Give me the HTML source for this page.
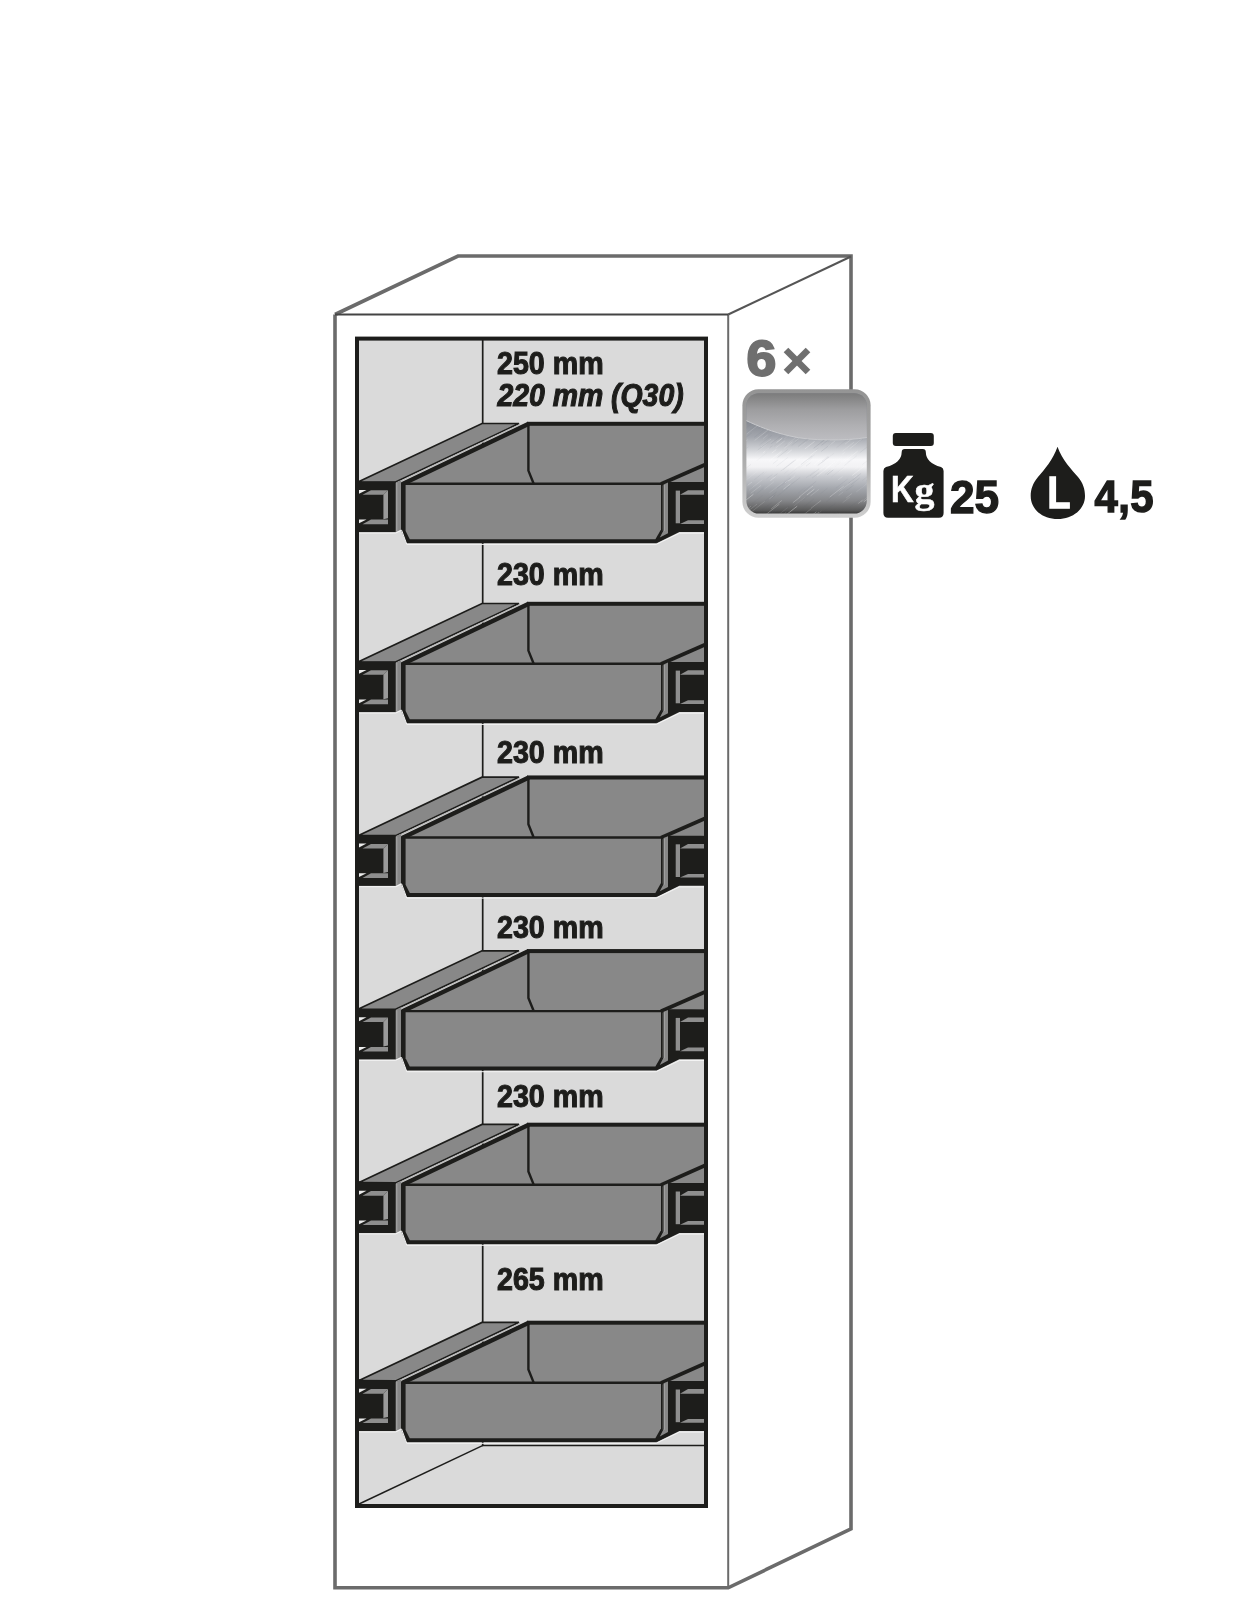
<!DOCTYPE html>
<html><head><meta charset="utf-8">
<style>
html,body{margin:0;padding:0;background:#fff;width:1241px;height:1624px;overflow:hidden}
svg{position:absolute;left:0;top:0;display:block;will-change:transform}
text{font-family:"Liberation Sans",sans-serif;font-weight:bold}
body{-webkit-font-smoothing:antialiased}
</style></head><body>
<svg width="1241" height="1624" viewBox="0 0 1241 1624">
<defs>
<g id="drw">
  <!-- tray interior -->
  <polygon points="403,484 528,422 706,422 706,482 662,484" fill="#888888"/>
  <!-- left rail top face -->
  <polygon points="358.5,481.8 482,423.5 519,423.5 395.6,482" fill="#888888" stroke="#1d1d1b" stroke-width="1.7" stroke-linejoin="miter"/>
  <line x1="398" y1="482.4" x2="520" y2="424.4" stroke="#b8b8b8" stroke-width="1.1"/>
  <!-- left rim thick -->
  <line x1="402" y1="484.2" x2="528.8" y2="423.8" stroke="#1d1d1b" stroke-width="4.4"/>
  <!-- back rim -->
  <rect x="527" y="421.8" width="179" height="4" fill="#1d1d1b"/>
  <!-- inner back corner -->
  <polyline points="528.4,425 528.4,470.6 533.6,483.5" fill="none" stroke="#1d1d1b" stroke-width="2.4"/>
  <!-- right rim -->
    <line x1="661" y1="484" x2="706" y2="464.2" stroke="#1d1d1b" stroke-width="3.8"/>
  <!-- left block -->
  <rect x="357" y="481.7" width="38.8" height="50.5" fill="#1d1d1b"/>
  <polygon points="358.5,489.9 366.5,489.9 358.5,494.1" fill="#ececec"/>
  <polygon points="371,490.2 388,490.2 383.4,494.8 362.5,494.8" fill="#8e8e8e"/>
  <polygon points="383.4,494.8 388,490.2 388,518.2 383.4,519.2" fill="#9a9a9a"/>
  <polygon points="358.5,519.6 366.5,519.6 358.5,523.6" fill="#ececec"/>
  <polygon points="371,519.6 388,519.6 388,524.2 362.5,524.2" fill="#8e8e8e"/>
  <!-- left side strip -->
  <polygon points="396,482.4 401.2,480 401.2,529.4 396,532" fill="#888888"/>
  <line x1="396.8" y1="483" x2="396.8" y2="531" stroke="#a8a8a8" stroke-width="1"/>
  <!-- tray front -->
  <polygon points="401,482.6 662.8,482.6 662.8,529.5 656.6,543.3 406.4,543.3 401,530" fill="#1d1d1b"/>
  <polygon points="405.6,485 661,485 661,529.4 655.4,539.3 409.8,539.3 405.6,531" fill="#888888"/>
  <!-- right block -->
  <polygon points="662.8,482 706,482 706,532 679.4,532 656.6,543.3 656.6,539 662.8,529.5" fill="#1d1d1b"/>
  <polygon points="663.6,484.4 668,482.6 668,533.2 659.8,537.6 663.6,530.2" fill="#888888"/>
  <line x1="664.3" y1="485" x2="664.3" y2="531" stroke="#aaaaaa" stroke-width="0.9"/>
  <polygon points="675.7,490.6 680,490.6 680,523.3 675.7,523.3" fill="#8e8e8e"/>
  <polyline points="359,533 395.8,533 401.6,530.2 406.8,544.4 656.2,544.4 679.4,533.2 704,533.2" fill="none" stroke="#f4f4f4" stroke-width="1"/>
  <polygon points="688,490.2 706,490.2 706,494.8 680,494.8" fill="#8e8e8e"/>
  <polygon points="688,520.2 706,520.2 706,523.9 680,523.9" fill="#8e8e8e"/>
</g>
</defs>

<!-- cabinet outline -->
<g fill="none" stroke="#6b6b6b" stroke-linejoin="miter">
  <polyline points="335,314.5 458,256 851,256 851,1528.8 728.2,1587.8 335,1587.8 335,314.5" stroke-width="3.6"/>
  <line x1="728.2" y1="314.5" x2="728.2" y2="1587" stroke-width="2"/>
  <line x1="728.2" y1="314.5" x2="851" y2="256.5" stroke-width="2" stroke="#555"/>
  <line x1="335" y1="314.5" x2="728.2" y2="314.5" stroke-width="2" stroke="#444"/>
</g>

<!-- inner cavity -->
<rect x="357" y="338.6" width="349" height="1167.4" fill="#dadada"/>
<line x1="482.7" y1="340" x2="482.7" y2="1446" stroke="#1d1d1b" stroke-width="1.7"/>
<line x1="482" y1="1445.6" x2="704" y2="1445.6" stroke="#1d1d1b" stroke-width="1.5"/>
<line x1="358" y1="1504.5" x2="483" y2="1445.4" stroke="#1d1d1b" stroke-width="1.4"/>

<use href="#drw"/>
<use href="#drw" transform="translate(0,180)"/>
<use href="#drw" transform="translate(0,353.7)"/>
<use href="#drw" transform="translate(0,527.3)"/>
<use href="#drw" transform="translate(0,700.9)"/>
<use href="#drw" transform="translate(0,898.9)"/>
<rect x="357" y="338.6" width="349" height="1167.4" fill="none" stroke="#1d1d1b" stroke-width="4"/>

<!-- labels -->
<g fill="#1d1d1b" stroke="#1d1d1b" stroke-width="1.1" font-size="31.2">
  <text transform="translate(497.0,373.9) scale(0.918,1)">250 mm</text>
  <text transform="translate(497.5,406.3) scale(0.91,1)" font-style="italic">220 mm (Q30)</text>
  <text transform="translate(497.0,584.5) scale(0.918,1)">230 mm</text>
  <text transform="translate(497.0,762.5) scale(0.918,1)">230 mm</text>
  <text transform="translate(497.0,937.7) scale(0.918,1)">230 mm</text>
  <text transform="translate(497.0,1106.9) scale(0.918,1)">230 mm</text>
  <text transform="translate(497.0,1290.1) scale(0.918,1)">265 mm</text>
</g>

<!-- 6x -->
<text transform="translate(746.5,376.3) scale(1.07,1)" font-size="50" fill="#6f6f6f" stroke="#6f6f6f" stroke-width="2">6</text>
<g stroke="#6f6f6f" stroke-width="6.5"><line x1="786" y1="350" x2="808" y2="372"/><line x1="808" y1="350" x2="786" y2="372"/></g>

<!-- metal square -->
<defs>
  <linearGradient id="mBorder" x1="0" y1="0" x2="0" y2="1">
    <stop offset="0" stop-color="#949494"/>
    <stop offset="0.5" stop-color="#a8a8a8"/>
    <stop offset="1" stop-color="#cfcfcf"/>
  </linearGradient>
  <linearGradient id="mLow" x1="0" y1="420" x2="0" y2="514" gradientUnits="userSpaceOnUse">
    <stop offset="0" stop-color="#83878f"/>
    <stop offset="0.18" stop-color="#a4a7ae"/>
    <stop offset="0.32" stop-color="#d2d4d8"/>
    <stop offset="0.42" stop-color="#f7f7f9"/>
    <stop offset="0.5" stop-color="#f2f2f4"/>
    <stop offset="0.6" stop-color="#c9cbd0"/>
    <stop offset="0.72" stop-color="#a6a9af"/>
    <stop offset="0.86" stop-color="#858689"/>
    <stop offset="0.96" stop-color="#5a5a5a"/>
    <stop offset="1" stop-color="#353535"/>
  </linearGradient>
  <linearGradient id="mUp" x1="0" y1="393" x2="0" y2="440" gradientUnits="userSpaceOnUse">
    <stop offset="0" stop-color="#7b7b7b"/>
    <stop offset="0.35" stop-color="#9d9d9f"/>
    <stop offset="0.7" stop-color="#b0b0b3"/>
    <stop offset="1" stop-color="#bdbdc1"/>
  </linearGradient>
  <pattern id="brush" width="6" height="6" patternUnits="userSpaceOnUse" patternTransform="rotate(-35)">
    <rect x="0" y="0" width="6" height="1" fill="#ffffff" opacity="0.18"/>
    <rect x="0" y="3" width="6" height="0.8" fill="#6a7080" opacity="0.12"/>
  </pattern>
  <clipPath id="mLowClip"><path d="M746,514 L867,514 L867,437.5 C845,441 810,441 790,436 C772,432 758,426 746,420.5 Z"/></clipPath>
  <clipPath id="mClip"><rect x="746.4" y="393.2" width="120.4" height="120.4" rx="12.5"/></clipPath>
</defs>
<rect x="742.4" y="389.3" width="128.2" height="128.4" rx="16" fill="url(#mBorder)"/>
<g clip-path="url(#mClip)">
  <rect x="746" y="393" width="121" height="121" fill="url(#mLow)"/>
  <path d="M746,393 L867,393 L867,437.5 C845,441 810,441 790,436 C772,432 758,426 746,420.5 Z" fill="url(#mUp)"/>
  <path d="M867,437.5 C845,441 810,441 790,436 C772,432 758,426 746,420.5" fill="none" stroke="#c8c9cc" stroke-width="1"/>
  <g clip-path="url(#mLowClip)"><line x1="793.9" y1="468.6" x2="807.3" y2="458.2" stroke="#ffffff" stroke-opacity="0.28" stroke-width="0.69"/><line x1="756.7" y1="460.6" x2="766.8" y2="452.7" stroke="#5c6474" stroke-opacity="0.07" stroke-width="0.55"/><line x1="742.7" y1="502.6" x2="753.5" y2="494.1" stroke="#ffffff" stroke-opacity="0.40" stroke-width="0.88"/><line x1="827.4" y1="473.1" x2="832.3" y2="469.3" stroke="#ffffff" stroke-opacity="0.28" stroke-width="0.43"/><line x1="760.8" y1="420.2" x2="764.3" y2="417.5" stroke="#ffffff" stroke-opacity="0.26" stroke-width="0.82"/><line x1="805.9" y1="478.0" x2="814.6" y2="471.3" stroke="#5c6474" stroke-opacity="0.11" stroke-width="0.54"/><line x1="873.4" y1="529.2" x2="885.9" y2="519.5" stroke="#5c6474" stroke-opacity="0.09" stroke-width="0.51"/><line x1="771.1" y1="399.4" x2="782.7" y2="390.3" stroke="#ffffff" stroke-opacity="0.36" stroke-width="0.59"/><line x1="872.3" y1="504.9" x2="875.5" y2="502.4" stroke="#ffffff" stroke-opacity="0.38" stroke-width="0.63"/><line x1="875.2" y1="442.2" x2="879.1" y2="439.1" stroke="#5c6474" stroke-opacity="0.14" stroke-width="0.53"/><line x1="740.7" y1="436.9" x2="754.5" y2="426.2" stroke="#5c6474" stroke-opacity="0.07" stroke-width="0.52"/><line x1="743.7" y1="398.1" x2="755.6" y2="388.7" stroke="#ffffff" stroke-opacity="0.29" stroke-width="0.62"/><line x1="760.4" y1="489.3" x2="764.9" y2="485.7" stroke="#5c6474" stroke-opacity="0.07" stroke-width="0.61"/><line x1="758.9" y1="428.2" x2="772.8" y2="417.4" stroke="#5c6474" stroke-opacity="0.09" stroke-width="0.84"/><line x1="759.3" y1="445.1" x2="771.8" y2="435.3" stroke="#5c6474" stroke-opacity="0.07" stroke-width="0.89"/><line x1="760.1" y1="425.7" x2="771.8" y2="416.6" stroke="#ffffff" stroke-opacity="0.22" stroke-width="0.44"/><line x1="745.2" y1="468.9" x2="751.0" y2="464.3" stroke="#5c6474" stroke-opacity="0.10" stroke-width="0.63"/><line x1="869.3" y1="456.4" x2="878.8" y2="449.0" stroke="#5c6474" stroke-opacity="0.08" stroke-width="0.48"/><line x1="863.8" y1="501.8" x2="869.7" y2="497.2" stroke="#ffffff" stroke-opacity="0.33" stroke-width="0.87"/><line x1="757.1" y1="523.1" x2="769.9" y2="513.0" stroke="#5c6474" stroke-opacity="0.10" stroke-width="0.45"/><line x1="737.7" y1="522.0" x2="743.5" y2="517.5" stroke="#5c6474" stroke-opacity="0.09" stroke-width="0.81"/><line x1="818.9" y1="428.1" x2="824.0" y2="424.1" stroke="#5c6474" stroke-opacity="0.07" stroke-width="0.51"/><line x1="811.1" y1="508.2" x2="821.1" y2="500.5" stroke="#ffffff" stroke-opacity="0.38" stroke-width="0.50"/><line x1="733.4" y1="425.8" x2="741.4" y2="419.5" stroke="#ffffff" stroke-opacity="0.19" stroke-width="0.58"/><line x1="814.4" y1="406.2" x2="821.5" y2="400.6" stroke="#5c6474" stroke-opacity="0.16" stroke-width="0.73"/><line x1="832.9" y1="468.7" x2="837.6" y2="465.0" stroke="#ffffff" stroke-opacity="0.15" stroke-width="0.86"/><line x1="834.9" y1="521.1" x2="838.3" y2="518.5" stroke="#5c6474" stroke-opacity="0.11" stroke-width="0.77"/><line x1="779.2" y1="526.5" x2="783.2" y2="523.4" stroke="#5c6474" stroke-opacity="0.13" stroke-width="0.85"/><line x1="835.9" y1="488.2" x2="847.8" y2="478.9" stroke="#5c6474" stroke-opacity="0.10" stroke-width="0.74"/><line x1="861.7" y1="510.0" x2="869.5" y2="503.9" stroke="#5c6474" stroke-opacity="0.15" stroke-width="0.69"/><line x1="820.8" y1="442.3" x2="830.4" y2="434.8" stroke="#5c6474" stroke-opacity="0.07" stroke-width="0.72"/><line x1="873.4" y1="512.5" x2="884.6" y2="503.8" stroke="#ffffff" stroke-opacity="0.33" stroke-width="0.69"/><line x1="796.8" y1="504.0" x2="800.9" y2="500.8" stroke="#5c6474" stroke-opacity="0.06" stroke-width="0.70"/><line x1="799.3" y1="421.5" x2="810.2" y2="413.0" stroke="#ffffff" stroke-opacity="0.30" stroke-width="0.86"/><line x1="768.9" y1="389.1" x2="775.3" y2="384.1" stroke="#5c6474" stroke-opacity="0.08" stroke-width="0.48"/><line x1="862.3" y1="480.5" x2="870.3" y2="474.3" stroke="#5c6474" stroke-opacity="0.09" stroke-width="0.73"/><line x1="757.8" y1="450.0" x2="769.8" y2="440.6" stroke="#5c6474" stroke-opacity="0.15" stroke-width="0.59"/><line x1="817.2" y1="431.1" x2="821.9" y2="427.5" stroke="#ffffff" stroke-opacity="0.36" stroke-width="0.82"/><line x1="835.0" y1="520.4" x2="841.2" y2="515.6" stroke="#ffffff" stroke-opacity="0.26" stroke-width="0.54"/><line x1="761.0" y1="446.9" x2="771.1" y2="439.0" stroke="#ffffff" stroke-opacity="0.23" stroke-width="0.82"/><line x1="875.4" y1="449.9" x2="879.4" y2="446.8" stroke="#ffffff" stroke-opacity="0.37" stroke-width="0.42"/><line x1="834.5" y1="467.4" x2="841.0" y2="462.3" stroke="#5c6474" stroke-opacity="0.06" stroke-width="0.47"/><line x1="794.8" y1="393.3" x2="807.1" y2="383.7" stroke="#ffffff" stroke-opacity="0.19" stroke-width="0.42"/><line x1="821.2" y1="451.5" x2="831.3" y2="443.6" stroke="#5c6474" stroke-opacity="0.14" stroke-width="0.88"/><line x1="830.1" y1="416.2" x2="838.4" y2="409.6" stroke="#ffffff" stroke-opacity="0.15" stroke-width="0.64"/><line x1="835.5" y1="412.5" x2="841.6" y2="407.7" stroke="#ffffff" stroke-opacity="0.32" stroke-width="0.66"/><line x1="820.3" y1="493.8" x2="827.8" y2="487.9" stroke="#5c6474" stroke-opacity="0.15" stroke-width="0.44"/><line x1="867.9" y1="487.9" x2="872.5" y2="484.3" stroke="#ffffff" stroke-opacity="0.31" stroke-width="0.85"/><line x1="783.2" y1="469.7" x2="796.1" y2="459.6" stroke="#5c6474" stroke-opacity="0.15" stroke-width="0.63"/><line x1="823.9" y1="418.0" x2="835.0" y2="409.3" stroke="#5c6474" stroke-opacity="0.12" stroke-width="0.76"/><line x1="758.9" y1="516.5" x2="772.9" y2="505.5" stroke="#5c6474" stroke-opacity="0.11" stroke-width="0.80"/><line x1="775.2" y1="517.3" x2="787.8" y2="507.5" stroke="#ffffff" stroke-opacity="0.17" stroke-width="0.62"/><line x1="810.5" y1="495.9" x2="819.1" y2="489.2" stroke="#ffffff" stroke-opacity="0.35" stroke-width="0.43"/><line x1="847.6" y1="411.9" x2="854.4" y2="406.5" stroke="#5c6474" stroke-opacity="0.07" stroke-width="0.47"/><line x1="803.7" y1="491.2" x2="816.1" y2="481.4" stroke="#5c6474" stroke-opacity="0.15" stroke-width="0.65"/><line x1="869.8" y1="399.2" x2="875.4" y2="394.9" stroke="#5c6474" stroke-opacity="0.09" stroke-width="0.76"/><line x1="821.4" y1="463.1" x2="833.9" y2="453.3" stroke="#5c6474" stroke-opacity="0.09" stroke-width="0.59"/><line x1="854.8" y1="513.2" x2="860.3" y2="508.9" stroke="#5c6474" stroke-opacity="0.16" stroke-width="0.66"/><line x1="813.6" y1="416.7" x2="822.6" y2="409.6" stroke="#5c6474" stroke-opacity="0.12" stroke-width="0.41"/><line x1="871.8" y1="460.2" x2="879.3" y2="454.3" stroke="#5c6474" stroke-opacity="0.12" stroke-width="0.65"/><line x1="830.6" y1="397.8" x2="839.7" y2="390.7" stroke="#ffffff" stroke-opacity="0.39" stroke-width="0.86"/><line x1="771.8" y1="453.0" x2="776.3" y2="449.5" stroke="#ffffff" stroke-opacity="0.35" stroke-width="0.85"/><line x1="801.5" y1="431.5" x2="806.7" y2="427.4" stroke="#5c6474" stroke-opacity="0.15" stroke-width="0.46"/><line x1="845.4" y1="390.3" x2="850.6" y2="386.1" stroke="#ffffff" stroke-opacity="0.32" stroke-width="0.56"/><line x1="784.4" y1="473.5" x2="788.7" y2="470.1" stroke="#5c6474" stroke-opacity="0.07" stroke-width="0.66"/><line x1="766.8" y1="416.2" x2="775.8" y2="409.2" stroke="#ffffff" stroke-opacity="0.24" stroke-width="0.61"/><line x1="809.1" y1="409.5" x2="814.5" y2="405.3" stroke="#5c6474" stroke-opacity="0.12" stroke-width="0.66"/><line x1="852.1" y1="475.6" x2="864.7" y2="465.7" stroke="#ffffff" stroke-opacity="0.34" stroke-width="0.81"/><line x1="862.6" y1="431.8" x2="869.2" y2="426.6" stroke="#5c6474" stroke-opacity="0.08" stroke-width="0.90"/><line x1="860.8" y1="406.0" x2="866.6" y2="401.5" stroke="#5c6474" stroke-opacity="0.09" stroke-width="0.45"/><line x1="849.7" y1="448.7" x2="861.6" y2="439.4" stroke="#ffffff" stroke-opacity="0.25" stroke-width="0.74"/><line x1="732.2" y1="417.3" x2="742.9" y2="409.0" stroke="#5c6474" stroke-opacity="0.16" stroke-width="0.46"/><line x1="804.0" y1="494.5" x2="812.7" y2="487.7" stroke="#5c6474" stroke-opacity="0.08" stroke-width="0.44"/><line x1="745.8" y1="393.8" x2="755.0" y2="386.6" stroke="#5c6474" stroke-opacity="0.12" stroke-width="0.47"/><line x1="755.5" y1="418.4" x2="768.0" y2="408.7" stroke="#5c6474" stroke-opacity="0.15" stroke-width="0.45"/><line x1="739.9" y1="521.4" x2="748.1" y2="515.0" stroke="#5c6474" stroke-opacity="0.09" stroke-width="0.63"/><line x1="804.8" y1="449.0" x2="814.6" y2="441.4" stroke="#ffffff" stroke-opacity="0.33" stroke-width="0.82"/><line x1="755.6" y1="453.0" x2="766.9" y2="444.1" stroke="#ffffff" stroke-opacity="0.20" stroke-width="0.48"/><line x1="802.8" y1="392.2" x2="815.8" y2="382.1" stroke="#5c6474" stroke-opacity="0.13" stroke-width="0.83"/><line x1="821.4" y1="445.4" x2="831.1" y2="437.8" stroke="#5c6474" stroke-opacity="0.16" stroke-width="0.80"/><line x1="766.8" y1="517.0" x2="778.1" y2="508.1" stroke="#5c6474" stroke-opacity="0.14" stroke-width="0.60"/><line x1="859.6" y1="512.4" x2="870.4" y2="504.0" stroke="#5c6474" stroke-opacity="0.14" stroke-width="0.60"/><line x1="836.3" y1="397.6" x2="843.2" y2="392.2" stroke="#ffffff" stroke-opacity="0.15" stroke-width="0.58"/><line x1="824.8" y1="474.6" x2="830.5" y2="470.1" stroke="#5c6474" stroke-opacity="0.13" stroke-width="0.57"/><line x1="826.1" y1="468.3" x2="835.2" y2="461.2" stroke="#ffffff" stroke-opacity="0.40" stroke-width="0.72"/><line x1="829.7" y1="497.1" x2="843.7" y2="486.2" stroke="#ffffff" stroke-opacity="0.30" stroke-width="0.77"/><line x1="770.4" y1="442.7" x2="774.1" y2="439.8" stroke="#ffffff" stroke-opacity="0.24" stroke-width="0.45"/><line x1="766.8" y1="515.4" x2="776.0" y2="508.2" stroke="#5c6474" stroke-opacity="0.16" stroke-width="0.68"/><line x1="873.2" y1="479.0" x2="885.3" y2="469.6" stroke="#ffffff" stroke-opacity="0.30" stroke-width="0.78"/><line x1="739.1" y1="517.1" x2="744.0" y2="513.3" stroke="#ffffff" stroke-opacity="0.19" stroke-width="0.65"/><line x1="816.8" y1="398.5" x2="830.4" y2="387.9" stroke="#ffffff" stroke-opacity="0.28" stroke-width="0.70"/><line x1="782.8" y1="429.1" x2="793.2" y2="421.0" stroke="#5c6474" stroke-opacity="0.09" stroke-width="0.76"/><line x1="775.0" y1="389.2" x2="780.9" y2="384.7" stroke="#ffffff" stroke-opacity="0.19" stroke-width="0.78"/><line x1="785.8" y1="515.1" x2="797.2" y2="506.2" stroke="#ffffff" stroke-opacity="0.40" stroke-width="0.87"/><line x1="741.7" y1="514.9" x2="749.6" y2="508.7" stroke="#ffffff" stroke-opacity="0.39" stroke-width="0.52"/><line x1="805.3" y1="520.6" x2="816.4" y2="511.9" stroke="#ffffff" stroke-opacity="0.39" stroke-width="0.81"/><line x1="817.5" y1="405.0" x2="827.5" y2="397.2" stroke="#ffffff" stroke-opacity="0.20" stroke-width="0.43"/><line x1="807.6" y1="405.5" x2="815.6" y2="399.3" stroke="#5c6474" stroke-opacity="0.11" stroke-width="0.53"/><line x1="813.6" y1="448.3" x2="825.3" y2="439.2" stroke="#5c6474" stroke-opacity="0.16" stroke-width="0.88"/><line x1="839.3" y1="420.1" x2="843.7" y2="416.7" stroke="#5c6474" stroke-opacity="0.14" stroke-width="0.71"/><line x1="781.7" y1="427.2" x2="792.4" y2="418.8" stroke="#5c6474" stroke-opacity="0.12" stroke-width="0.72"/><line x1="841.3" y1="413.9" x2="847.2" y2="409.3" stroke="#5c6474" stroke-opacity="0.15" stroke-width="0.84"/><line x1="737.7" y1="395.9" x2="743.8" y2="391.1" stroke="#ffffff" stroke-opacity="0.31" stroke-width="0.45"/><line x1="811.5" y1="396.8" x2="815.6" y2="393.5" stroke="#5c6474" stroke-opacity="0.12" stroke-width="0.72"/><line x1="786.4" y1="454.1" x2="791.8" y2="449.9" stroke="#ffffff" stroke-opacity="0.34" stroke-width="0.82"/><line x1="739.7" y1="406.5" x2="751.8" y2="397.1" stroke="#5c6474" stroke-opacity="0.14" stroke-width="0.51"/><line x1="790.5" y1="425.9" x2="802.6" y2="416.4" stroke="#ffffff" stroke-opacity="0.31" stroke-width="0.89"/><line x1="776.5" y1="466.3" x2="787.9" y2="457.4" stroke="#5c6474" stroke-opacity="0.10" stroke-width="0.58"/><line x1="747.1" y1="509.1" x2="751.1" y2="506.0" stroke="#ffffff" stroke-opacity="0.29" stroke-width="0.64"/><line x1="828.5" y1="431.4" x2="840.2" y2="422.3" stroke="#ffffff" stroke-opacity="0.20" stroke-width="0.73"/><line x1="741.3" y1="431.9" x2="752.4" y2="423.2" stroke="#5c6474" stroke-opacity="0.09" stroke-width="0.47"/><line x1="783.3" y1="489.4" x2="790.5" y2="483.8" stroke="#ffffff" stroke-opacity="0.33" stroke-width="0.68"/><line x1="861.6" y1="521.8" x2="874.8" y2="511.4" stroke="#ffffff" stroke-opacity="0.35" stroke-width="0.55"/><line x1="774.3" y1="446.2" x2="787.8" y2="435.7" stroke="#5c6474" stroke-opacity="0.08" stroke-width="0.58"/><line x1="784.2" y1="438.8" x2="791.8" y2="432.9" stroke="#ffffff" stroke-opacity="0.20" stroke-width="0.68"/><line x1="844.4" y1="465.5" x2="856.8" y2="455.8" stroke="#5c6474" stroke-opacity="0.08" stroke-width="0.78"/><line x1="861.0" y1="425.7" x2="864.4" y2="423.1" stroke="#5c6474" stroke-opacity="0.11" stroke-width="0.68"/><line x1="869.1" y1="480.9" x2="881.1" y2="471.5" stroke="#ffffff" stroke-opacity="0.29" stroke-width="0.79"/><line x1="741.5" y1="400.8" x2="752.8" y2="392.0" stroke="#5c6474" stroke-opacity="0.07" stroke-width="0.72"/><line x1="750.7" y1="493.4" x2="761.0" y2="485.4" stroke="#ffffff" stroke-opacity="0.21" stroke-width="0.78"/><line x1="806.9" y1="495.0" x2="814.4" y2="489.1" stroke="#ffffff" stroke-opacity="0.39" stroke-width="0.74"/><line x1="801.0" y1="464.6" x2="812.1" y2="455.9" stroke="#5c6474" stroke-opacity="0.15" stroke-width="0.61"/><line x1="848.5" y1="483.3" x2="861.1" y2="473.4" stroke="#5c6474" stroke-opacity="0.14" stroke-width="0.84"/><line x1="869.4" y1="478.1" x2="878.3" y2="471.1" stroke="#5c6474" stroke-opacity="0.14" stroke-width="0.61"/><line x1="790.3" y1="409.9" x2="801.6" y2="401.0" stroke="#5c6474" stroke-opacity="0.10" stroke-width="0.48"/><line x1="761.4" y1="447.0" x2="767.8" y2="442.0" stroke="#5c6474" stroke-opacity="0.07" stroke-width="0.55"/><line x1="745.8" y1="480.3" x2="757.5" y2="471.1" stroke="#ffffff" stroke-opacity="0.17" stroke-width="0.63"/><line x1="817.9" y1="513.7" x2="821.5" y2="510.9" stroke="#ffffff" stroke-opacity="0.20" stroke-width="0.51"/><line x1="764.3" y1="489.2" x2="774.0" y2="481.6" stroke="#ffffff" stroke-opacity="0.20" stroke-width="0.54"/><line x1="756.7" y1="493.6" x2="763.3" y2="488.5" stroke="#5c6474" stroke-opacity="0.14" stroke-width="0.64"/><line x1="766.1" y1="514.4" x2="779.4" y2="504.1" stroke="#ffffff" stroke-opacity="0.29" stroke-width="0.88"/><line x1="803.1" y1="417.4" x2="806.8" y2="414.5" stroke="#5c6474" stroke-opacity="0.14" stroke-width="0.59"/><line x1="808.4" y1="459.6" x2="814.6" y2="454.8" stroke="#5c6474" stroke-opacity="0.13" stroke-width="0.52"/><line x1="733.0" y1="454.0" x2="740.2" y2="448.3" stroke="#5c6474" stroke-opacity="0.13" stroke-width="0.70"/><line x1="754.5" y1="409.6" x2="761.2" y2="404.3" stroke="#ffffff" stroke-opacity="0.37" stroke-width="0.66"/><line x1="824.3" y1="526.4" x2="830.4" y2="521.7" stroke="#5c6474" stroke-opacity="0.08" stroke-width="0.79"/><line x1="729.0" y1="504.9" x2="741.4" y2="495.1" stroke="#5c6474" stroke-opacity="0.07" stroke-width="0.53"/><line x1="834.7" y1="401.9" x2="843.1" y2="395.3" stroke="#ffffff" stroke-opacity="0.39" stroke-width="0.69"/><line x1="853.4" y1="432.1" x2="865.2" y2="422.9" stroke="#ffffff" stroke-opacity="0.38" stroke-width="0.45"/><line x1="850.2" y1="417.8" x2="859.4" y2="410.6" stroke="#5c6474" stroke-opacity="0.08" stroke-width="0.82"/><line x1="778.2" y1="430.1" x2="782.1" y2="426.9" stroke="#ffffff" stroke-opacity="0.27" stroke-width="0.76"/><line x1="785.0" y1="482.9" x2="789.3" y2="479.5" stroke="#ffffff" stroke-opacity="0.27" stroke-width="0.88"/><line x1="853.7" y1="477.8" x2="857.0" y2="475.3" stroke="#ffffff" stroke-opacity="0.33" stroke-width="0.52"/><line x1="815.2" y1="450.4" x2="818.4" y2="447.9" stroke="#5c6474" stroke-opacity="0.14" stroke-width="0.50"/><line x1="820.7" y1="428.5" x2="828.0" y2="422.8" stroke="#5c6474" stroke-opacity="0.09" stroke-width="0.57"/><line x1="788.9" y1="480.7" x2="794.9" y2="476.0" stroke="#ffffff" stroke-opacity="0.33" stroke-width="0.56"/><line x1="866.5" y1="468.1" x2="877.6" y2="459.4" stroke="#ffffff" stroke-opacity="0.36" stroke-width="0.45"/><line x1="750.1" y1="402.4" x2="760.7" y2="394.1" stroke="#5c6474" stroke-opacity="0.08" stroke-width="0.60"/><line x1="854.3" y1="469.6" x2="858.4" y2="466.4" stroke="#ffffff" stroke-opacity="0.19" stroke-width="0.46"/><line x1="787.3" y1="400.4" x2="800.6" y2="390.0" stroke="#ffffff" stroke-opacity="0.28" stroke-width="0.72"/><line x1="842.5" y1="502.8" x2="849.9" y2="497.1" stroke="#ffffff" stroke-opacity="0.25" stroke-width="0.41"/><line x1="786.1" y1="488.4" x2="800.1" y2="477.5" stroke="#5c6474" stroke-opacity="0.13" stroke-width="0.70"/><line x1="734.2" y1="434.0" x2="741.2" y2="428.6" stroke="#5c6474" stroke-opacity="0.07" stroke-width="0.59"/><line x1="802.7" y1="500.2" x2="815.0" y2="490.6" stroke="#5c6474" stroke-opacity="0.08" stroke-width="0.78"/><line x1="862.4" y1="464.5" x2="869.5" y2="459.0" stroke="#5c6474" stroke-opacity="0.07" stroke-width="0.76"/><line x1="872.6" y1="461.6" x2="883.6" y2="452.9" stroke="#5c6474" stroke-opacity="0.08" stroke-width="0.87"/><line x1="823.9" y1="414.3" x2="828.0" y2="411.1" stroke="#ffffff" stroke-opacity="0.29" stroke-width="0.75"/><line x1="779.2" y1="517.9" x2="786.3" y2="512.3" stroke="#ffffff" stroke-opacity="0.18" stroke-width="0.89"/><line x1="750.1" y1="515.1" x2="759.2" y2="508.0" stroke="#5c6474" stroke-opacity="0.12" stroke-width="0.53"/><line x1="860.8" y1="528.7" x2="872.9" y2="519.1" stroke="#5c6474" stroke-opacity="0.07" stroke-width="0.81"/><line x1="773.9" y1="512.9" x2="779.7" y2="508.3" stroke="#5c6474" stroke-opacity="0.14" stroke-width="0.49"/><line x1="812.7" y1="397.0" x2="816.2" y2="394.3" stroke="#ffffff" stroke-opacity="0.40" stroke-width="0.87"/><line x1="825.2" y1="432.2" x2="835.7" y2="423.9" stroke="#5c6474" stroke-opacity="0.10" stroke-width="0.70"/><line x1="848.9" y1="389.4" x2="854.2" y2="385.2" stroke="#ffffff" stroke-opacity="0.19" stroke-width="0.59"/><line x1="813.1" y1="412.8" x2="822.0" y2="405.8" stroke="#ffffff" stroke-opacity="0.29" stroke-width="0.57"/><line x1="822.8" y1="394.4" x2="833.3" y2="386.2" stroke="#ffffff" stroke-opacity="0.39" stroke-width="0.70"/><line x1="798.1" y1="446.5" x2="808.2" y2="438.7" stroke="#5c6474" stroke-opacity="0.14" stroke-width="0.78"/><line x1="799.2" y1="529.1" x2="811.6" y2="519.4" stroke="#5c6474" stroke-opacity="0.10" stroke-width="0.62"/><line x1="812.6" y1="515.2" x2="821.5" y2="508.2" stroke="#5c6474" stroke-opacity="0.10" stroke-width="0.85"/><line x1="775.9" y1="397.0" x2="787.1" y2="388.3" stroke="#5c6474" stroke-opacity="0.13" stroke-width="0.70"/><line x1="839.2" y1="431.5" x2="848.9" y2="423.9" stroke="#ffffff" stroke-opacity="0.18" stroke-width="0.62"/><line x1="806.0" y1="442.0" x2="809.7" y2="439.1" stroke="#5c6474" stroke-opacity="0.11" stroke-width="0.52"/><line x1="776.5" y1="442.6" x2="782.3" y2="438.1" stroke="#ffffff" stroke-opacity="0.38" stroke-width="0.88"/><line x1="827.6" y1="509.4" x2="835.4" y2="503.3" stroke="#5c6474" stroke-opacity="0.08" stroke-width="0.77"/><line x1="815.1" y1="513.1" x2="819.3" y2="509.8" stroke="#5c6474" stroke-opacity="0.07" stroke-width="0.67"/><line x1="870.0" y1="387.4" x2="875.8" y2="382.8" stroke="#ffffff" stroke-opacity="0.23" stroke-width="0.43"/><line x1="861.0" y1="502.1" x2="868.6" y2="496.2" stroke="#ffffff" stroke-opacity="0.30" stroke-width="0.42"/><line x1="736.2" y1="513.3" x2="742.8" y2="508.2" stroke="#ffffff" stroke-opacity="0.38" stroke-width="0.89"/><line x1="800.3" y1="416.4" x2="806.7" y2="411.4" stroke="#5c6474" stroke-opacity="0.15" stroke-width="0.50"/><line x1="852.3" y1="437.8" x2="860.7" y2="431.3" stroke="#ffffff" stroke-opacity="0.37" stroke-width="0.90"/><line x1="761.7" y1="475.6" x2="766.9" y2="471.5" stroke="#5c6474" stroke-opacity="0.07" stroke-width="0.45"/><line x1="833.7" y1="433.9" x2="846.8" y2="423.7" stroke="#5c6474" stroke-opacity="0.13" stroke-width="0.47"/><line x1="831.9" y1="519.4" x2="839.9" y2="513.1" stroke="#ffffff" stroke-opacity="0.21" stroke-width="0.55"/><line x1="835.5" y1="414.5" x2="840.6" y2="410.5" stroke="#ffffff" stroke-opacity="0.32" stroke-width="0.80"/><line x1="782.6" y1="482.7" x2="795.5" y2="472.6" stroke="#5c6474" stroke-opacity="0.08" stroke-width="0.55"/><line x1="866.3" y1="480.8" x2="872.5" y2="476.0" stroke="#5c6474" stroke-opacity="0.07" stroke-width="0.89"/><line x1="794.3" y1="462.5" x2="803.4" y2="455.4" stroke="#ffffff" stroke-opacity="0.30" stroke-width="0.54"/><line x1="769.3" y1="499.1" x2="773.4" y2="495.8" stroke="#ffffff" stroke-opacity="0.34" stroke-width="0.52"/><line x1="772.9" y1="463.8" x2="778.1" y2="459.7" stroke="#5c6474" stroke-opacity="0.16" stroke-width="0.42"/><line x1="798.2" y1="493.0" x2="805.6" y2="487.2" stroke="#5c6474" stroke-opacity="0.11" stroke-width="0.49"/><line x1="812.1" y1="478.1" x2="819.2" y2="472.5" stroke="#5c6474" stroke-opacity="0.14" stroke-width="0.66"/><line x1="803.0" y1="507.5" x2="813.7" y2="499.2" stroke="#5c6474" stroke-opacity="0.16" stroke-width="0.49"/><line x1="843.1" y1="412.0" x2="853.0" y2="404.3" stroke="#ffffff" stroke-opacity="0.26" stroke-width="0.79"/><line x1="846.2" y1="498.0" x2="851.9" y2="493.5" stroke="#ffffff" stroke-opacity="0.21" stroke-width="0.69"/><line x1="802.5" y1="393.8" x2="812.2" y2="386.1" stroke="#5c6474" stroke-opacity="0.12" stroke-width="0.84"/><line x1="759.4" y1="407.6" x2="762.8" y2="404.9" stroke="#ffffff" stroke-opacity="0.26" stroke-width="0.62"/><line x1="771.2" y1="498.3" x2="775.1" y2="495.2" stroke="#5c6474" stroke-opacity="0.12" stroke-width="0.67"/><line x1="847.4" y1="420.2" x2="852.2" y2="416.5" stroke="#ffffff" stroke-opacity="0.16" stroke-width="0.56"/><line x1="822.0" y1="460.9" x2="828.1" y2="456.2" stroke="#5c6474" stroke-opacity="0.07" stroke-width="0.81"/><line x1="757.4" y1="422.6" x2="762.3" y2="418.8" stroke="#5c6474" stroke-opacity="0.14" stroke-width="0.79"/><line x1="740.3" y1="445.3" x2="747.5" y2="439.7" stroke="#ffffff" stroke-opacity="0.39" stroke-width="0.42"/><line x1="799.0" y1="497.1" x2="813.0" y2="486.1" stroke="#ffffff" stroke-opacity="0.26" stroke-width="0.77"/><line x1="734.2" y1="423.8" x2="747.2" y2="413.6" stroke="#ffffff" stroke-opacity="0.25" stroke-width="0.55"/><line x1="794.8" y1="397.1" x2="798.3" y2="394.3" stroke="#5c6474" stroke-opacity="0.14" stroke-width="0.77"/><line x1="763.7" y1="424.1" x2="773.0" y2="416.8" stroke="#ffffff" stroke-opacity="0.27" stroke-width="0.87"/><line x1="780.8" y1="437.6" x2="794.8" y2="426.7" stroke="#5c6474" stroke-opacity="0.06" stroke-width="0.60"/><line x1="825.8" y1="395.9" x2="832.7" y2="390.5" stroke="#5c6474" stroke-opacity="0.15" stroke-width="0.70"/><line x1="859.8" y1="452.7" x2="867.3" y2="446.8" stroke="#5c6474" stroke-opacity="0.10" stroke-width="0.79"/><line x1="763.6" y1="435.7" x2="768.8" y2="431.6" stroke="#5c6474" stroke-opacity="0.08" stroke-width="0.50"/><line x1="762.8" y1="453.0" x2="769.4" y2="447.9" stroke="#ffffff" stroke-opacity="0.40" stroke-width="0.74"/><line x1="856.4" y1="416.5" x2="863.8" y2="410.8" stroke="#ffffff" stroke-opacity="0.32" stroke-width="0.58"/><line x1="772.2" y1="389.6" x2="777.4" y2="385.6" stroke="#ffffff" stroke-opacity="0.25" stroke-width="0.86"/><line x1="835.1" y1="425.4" x2="842.3" y2="419.8" stroke="#ffffff" stroke-opacity="0.38" stroke-width="0.58"/><line x1="839.4" y1="491.4" x2="852.6" y2="481.1" stroke="#ffffff" stroke-opacity="0.23" stroke-width="0.59"/><line x1="743.7" y1="511.2" x2="750.4" y2="505.9" stroke="#5c6474" stroke-opacity="0.11" stroke-width="0.43"/><line x1="790.3" y1="419.8" x2="793.9" y2="417.0" stroke="#ffffff" stroke-opacity="0.30" stroke-width="0.42"/><line x1="775.7" y1="447.9" x2="784.9" y2="440.8" stroke="#ffffff" stroke-opacity="0.33" stroke-width="0.53"/><line x1="837.8" y1="480.1" x2="842.6" y2="476.4" stroke="#ffffff" stroke-opacity="0.22" stroke-width="0.76"/><line x1="787.4" y1="444.1" x2="800.1" y2="434.1" stroke="#ffffff" stroke-opacity="0.22" stroke-width="0.57"/><line x1="764.6" y1="392.0" x2="768.0" y2="389.4" stroke="#5c6474" stroke-opacity="0.12" stroke-width="0.80"/><line x1="871.2" y1="430.9" x2="881.7" y2="422.6" stroke="#5c6474" stroke-opacity="0.08" stroke-width="0.74"/><line x1="825.3" y1="523.7" x2="838.0" y2="513.7" stroke="#ffffff" stroke-opacity="0.31" stroke-width="0.44"/><line x1="795.1" y1="441.4" x2="798.9" y2="438.5" stroke="#ffffff" stroke-opacity="0.23" stroke-width="0.65"/><line x1="771.8" y1="410.2" x2="779.4" y2="404.2" stroke="#ffffff" stroke-opacity="0.19" stroke-width="0.73"/><line x1="766.3" y1="400.7" x2="773.2" y2="395.3" stroke="#ffffff" stroke-opacity="0.19" stroke-width="0.69"/><line x1="831.3" y1="466.7" x2="842.1" y2="458.2" stroke="#ffffff" stroke-opacity="0.25" stroke-width="0.58"/><line x1="742.2" y1="443.1" x2="746.0" y2="440.1" stroke="#ffffff" stroke-opacity="0.30" stroke-width="0.63"/><line x1="780.5" y1="421.8" x2="783.9" y2="419.1" stroke="#ffffff" stroke-opacity="0.37" stroke-width="0.68"/><line x1="770.4" y1="480.6" x2="775.6" y2="476.5" stroke="#ffffff" stroke-opacity="0.30" stroke-width="0.88"/><line x1="780.8" y1="471.0" x2="794.4" y2="460.4" stroke="#5c6474" stroke-opacity="0.12" stroke-width="0.71"/><line x1="791.5" y1="445.6" x2="797.7" y2="440.8" stroke="#5c6474" stroke-opacity="0.15" stroke-width="0.59"/><line x1="864.6" y1="392.2" x2="869.2" y2="388.5" stroke="#5c6474" stroke-opacity="0.09" stroke-width="0.58"/><line x1="874.0" y1="408.0" x2="879.3" y2="403.9" stroke="#ffffff" stroke-opacity="0.32" stroke-width="0.52"/><line x1="731.4" y1="464.1" x2="738.9" y2="458.2" stroke="#ffffff" stroke-opacity="0.27" stroke-width="0.73"/><line x1="809.8" y1="476.1" x2="819.1" y2="468.8" stroke="#5c6474" stroke-opacity="0.16" stroke-width="0.57"/><line x1="782.0" y1="511.7" x2="788.6" y2="506.5" stroke="#5c6474" stroke-opacity="0.13" stroke-width="0.74"/><line x1="872.3" y1="502.3" x2="877.2" y2="498.5" stroke="#5c6474" stroke-opacity="0.11" stroke-width="0.68"/><line x1="782.9" y1="429.5" x2="794.3" y2="420.5" stroke="#5c6474" stroke-opacity="0.08" stroke-width="0.52"/><line x1="777.7" y1="413.3" x2="786.5" y2="406.4" stroke="#ffffff" stroke-opacity="0.17" stroke-width="0.43"/><line x1="747.6" y1="485.4" x2="752.0" y2="482.0" stroke="#ffffff" stroke-opacity="0.34" stroke-width="0.64"/><line x1="752.2" y1="511.3" x2="764.9" y2="501.3" stroke="#ffffff" stroke-opacity="0.21" stroke-width="0.65"/><line x1="845.0" y1="444.2" x2="856.0" y2="435.6" stroke="#ffffff" stroke-opacity="0.33" stroke-width="0.56"/><line x1="777.2" y1="496.2" x2="789.6" y2="486.4" stroke="#5c6474" stroke-opacity="0.12" stroke-width="0.61"/><line x1="831.3" y1="477.0" x2="843.7" y2="467.4" stroke="#5c6474" stroke-opacity="0.07" stroke-width="0.59"/><line x1="829.5" y1="419.4" x2="834.7" y2="415.3" stroke="#ffffff" stroke-opacity="0.30" stroke-width="0.87"/><line x1="870.3" y1="407.9" x2="881.1" y2="399.5" stroke="#ffffff" stroke-opacity="0.31" stroke-width="0.60"/><line x1="868.5" y1="524.9" x2="872.2" y2="522.0" stroke="#5c6474" stroke-opacity="0.07" stroke-width="0.42"/><line x1="769.4" y1="492.9" x2="783.5" y2="481.9" stroke="#ffffff" stroke-opacity="0.23" stroke-width="0.41"/><line x1="810.0" y1="455.5" x2="817.3" y2="449.8" stroke="#ffffff" stroke-opacity="0.35" stroke-width="0.82"/><line x1="771.2" y1="443.7" x2="781.1" y2="435.9" stroke="#5c6474" stroke-opacity="0.16" stroke-width="0.59"/><line x1="829.6" y1="466.1" x2="841.6" y2="456.8" stroke="#ffffff" stroke-opacity="0.19" stroke-width="0.45"/><line x1="866.1" y1="423.5" x2="874.6" y2="416.9" stroke="#ffffff" stroke-opacity="0.23" stroke-width="0.41"/><line x1="812.0" y1="409.0" x2="822.1" y2="401.2" stroke="#ffffff" stroke-opacity="0.21" stroke-width="0.64"/><line x1="786.2" y1="422.8" x2="789.9" y2="419.9" stroke="#ffffff" stroke-opacity="0.37" stroke-width="0.55"/><line x1="742.1" y1="413.9" x2="750.6" y2="407.2" stroke="#5c6474" stroke-opacity="0.08" stroke-width="0.83"/><line x1="799.2" y1="447.7" x2="811.2" y2="438.3" stroke="#ffffff" stroke-opacity="0.16" stroke-width="0.68"/><line x1="827.1" y1="474.7" x2="833.4" y2="469.8" stroke="#5c6474" stroke-opacity="0.15" stroke-width="0.90"/><line x1="793.7" y1="506.1" x2="804.8" y2="497.4" stroke="#ffffff" stroke-opacity="0.16" stroke-width="0.48"/><line x1="748.7" y1="398.2" x2="755.8" y2="392.7" stroke="#5c6474" stroke-opacity="0.09" stroke-width="0.66"/><line x1="729.7" y1="419.8" x2="743.4" y2="409.1" stroke="#ffffff" stroke-opacity="0.28" stroke-width="0.81"/><line x1="846.1" y1="490.9" x2="853.7" y2="485.0" stroke="#5c6474" stroke-opacity="0.14" stroke-width="0.78"/><line x1="871.1" y1="404.4" x2="884.8" y2="393.8" stroke="#ffffff" stroke-opacity="0.33" stroke-width="0.53"/><line x1="862.1" y1="392.0" x2="871.7" y2="384.6" stroke="#ffffff" stroke-opacity="0.25" stroke-width="0.58"/><line x1="826.7" y1="501.3" x2="833.8" y2="495.7" stroke="#5c6474" stroke-opacity="0.10" stroke-width="0.54"/><line x1="864.2" y1="431.7" x2="868.3" y2="428.4" stroke="#ffffff" stroke-opacity="0.34" stroke-width="0.51"/><line x1="837.4" y1="465.6" x2="848.1" y2="457.3" stroke="#ffffff" stroke-opacity="0.18" stroke-width="0.47"/><line x1="784.2" y1="446.6" x2="787.4" y2="444.0" stroke="#5c6474" stroke-opacity="0.10" stroke-width="0.56"/><line x1="810.2" y1="520.4" x2="815.6" y2="516.2" stroke="#5c6474" stroke-opacity="0.09" stroke-width="0.78"/><line x1="746.8" y1="526.3" x2="754.7" y2="520.2" stroke="#5c6474" stroke-opacity="0.08" stroke-width="0.60"/><line x1="834.3" y1="412.3" x2="840.5" y2="407.5" stroke="#5c6474" stroke-opacity="0.15" stroke-width="0.56"/><line x1="754.6" y1="440.5" x2="768.6" y2="429.5" stroke="#ffffff" stroke-opacity="0.31" stroke-width="0.59"/><line x1="823.4" y1="418.6" x2="833.3" y2="410.8" stroke="#5c6474" stroke-opacity="0.15" stroke-width="0.71"/><line x1="806.0" y1="466.2" x2="810.4" y2="462.8" stroke="#5c6474" stroke-opacity="0.13" stroke-width="0.63"/><line x1="827.8" y1="446.6" x2="835.2" y2="440.8" stroke="#ffffff" stroke-opacity="0.30" stroke-width="0.69"/><line x1="804.7" y1="393.4" x2="814.7" y2="385.6" stroke="#ffffff" stroke-opacity="0.30" stroke-width="0.70"/><line x1="865.9" y1="409.5" x2="874.2" y2="403.0" stroke="#5c6474" stroke-opacity="0.13" stroke-width="0.56"/><line x1="838.0" y1="526.5" x2="845.6" y2="520.6" stroke="#5c6474" stroke-opacity="0.07" stroke-width="0.90"/><line x1="800.0" y1="422.6" x2="812.4" y2="412.9" stroke="#5c6474" stroke-opacity="0.15" stroke-width="0.81"/><line x1="843.6" y1="462.1" x2="857.7" y2="451.1" stroke="#ffffff" stroke-opacity="0.37" stroke-width="0.76"/><line x1="767.3" y1="501.2" x2="775.4" y2="494.8" stroke="#5c6474" stroke-opacity="0.15" stroke-width="0.50"/><line x1="773.6" y1="476.7" x2="777.5" y2="473.6" stroke="#5c6474" stroke-opacity="0.14" stroke-width="0.65"/><line x1="763.8" y1="501.9" x2="776.4" y2="492.1" stroke="#5c6474" stroke-opacity="0.11" stroke-width="0.85"/><line x1="846.9" y1="409.1" x2="854.1" y2="403.4" stroke="#ffffff" stroke-opacity="0.16" stroke-width="0.57"/><line x1="858.2" y1="503.5" x2="862.6" y2="500.0" stroke="#ffffff" stroke-opacity="0.25" stroke-width="0.82"/><line x1="822.5" y1="512.8" x2="826.4" y2="509.7" stroke="#5c6474" stroke-opacity="0.08" stroke-width="0.71"/><line x1="859.4" y1="489.0" x2="864.8" y2="484.8" stroke="#5c6474" stroke-opacity="0.10" stroke-width="0.41"/><line x1="779.2" y1="433.1" x2="789.3" y2="425.2" stroke="#ffffff" stroke-opacity="0.30" stroke-width="0.75"/><line x1="755.8" y1="407.1" x2="766.6" y2="398.7" stroke="#ffffff" stroke-opacity="0.18" stroke-width="0.46"/><line x1="867.9" y1="473.2" x2="875.0" y2="467.6" stroke="#ffffff" stroke-opacity="0.40" stroke-width="0.75"/><line x1="838.5" y1="438.0" x2="845.0" y2="432.9" stroke="#ffffff" stroke-opacity="0.19" stroke-width="0.72"/><line x1="792.8" y1="502.8" x2="800.4" y2="496.8" stroke="#ffffff" stroke-opacity="0.28" stroke-width="0.87"/><line x1="782.3" y1="485.8" x2="788.1" y2="481.3" stroke="#5c6474" stroke-opacity="0.09" stroke-width="0.84"/><line x1="771.2" y1="508.8" x2="781.8" y2="500.5" stroke="#ffffff" stroke-opacity="0.38" stroke-width="0.59"/><line x1="838.7" y1="472.3" x2="846.8" y2="466.0" stroke="#ffffff" stroke-opacity="0.25" stroke-width="0.54"/><line x1="795.7" y1="521.1" x2="802.1" y2="516.1" stroke="#5c6474" stroke-opacity="0.13" stroke-width="0.52"/><line x1="788.2" y1="408.6" x2="801.2" y2="398.4" stroke="#ffffff" stroke-opacity="0.26" stroke-width="0.57"/><line x1="849.1" y1="507.8" x2="858.8" y2="500.3" stroke="#5c6474" stroke-opacity="0.07" stroke-width="0.85"/><line x1="744.2" y1="438.7" x2="751.5" y2="433.1" stroke="#5c6474" stroke-opacity="0.13" stroke-width="0.57"/><line x1="863.5" y1="519.3" x2="866.9" y2="516.6" stroke="#5c6474" stroke-opacity="0.11" stroke-width="0.58"/><line x1="797.1" y1="433.4" x2="807.7" y2="425.1" stroke="#5c6474" stroke-opacity="0.16" stroke-width="0.89"/><line x1="872.8" y1="445.1" x2="885.1" y2="435.5" stroke="#5c6474" stroke-opacity="0.13" stroke-width="0.90"/><line x1="740.9" y1="452.7" x2="748.4" y2="446.8" stroke="#5c6474" stroke-opacity="0.08" stroke-width="0.89"/><line x1="763.0" y1="438.6" x2="767.7" y2="434.9" stroke="#ffffff" stroke-opacity="0.34" stroke-width="0.44"/><line x1="754.2" y1="479.8" x2="764.2" y2="471.9" stroke="#5c6474" stroke-opacity="0.09" stroke-width="0.81"/><line x1="838.7" y1="495.4" x2="843.2" y2="491.9" stroke="#ffffff" stroke-opacity="0.15" stroke-width="0.83"/><line x1="870.2" y1="511.7" x2="873.7" y2="509.1" stroke="#ffffff" stroke-opacity="0.28" stroke-width="0.67"/><line x1="747.9" y1="498.0" x2="754.4" y2="493.0" stroke="#5c6474" stroke-opacity="0.07" stroke-width="0.68"/><line x1="749.4" y1="400.8" x2="758.2" y2="393.9" stroke="#ffffff" stroke-opacity="0.34" stroke-width="0.52"/><line x1="792.2" y1="394.8" x2="797.8" y2="390.4" stroke="#ffffff" stroke-opacity="0.29" stroke-width="0.63"/><line x1="852.1" y1="404.5" x2="864.6" y2="394.7" stroke="#ffffff" stroke-opacity="0.39" stroke-width="0.66"/><line x1="787.6" y1="475.7" x2="800.3" y2="465.8" stroke="#5c6474" stroke-opacity="0.10" stroke-width="0.41"/><line x1="751.7" y1="504.0" x2="762.9" y2="495.2" stroke="#5c6474" stroke-opacity="0.08" stroke-width="0.67"/><line x1="735.9" y1="403.0" x2="742.4" y2="397.9" stroke="#5c6474" stroke-opacity="0.12" stroke-width="0.82"/><line x1="739.7" y1="444.8" x2="743.7" y2="441.7" stroke="#ffffff" stroke-opacity="0.18" stroke-width="0.86"/><line x1="777.5" y1="457.5" x2="787.9" y2="449.4" stroke="#5c6474" stroke-opacity="0.15" stroke-width="0.68"/><line x1="803.9" y1="514.5" x2="811.4" y2="508.6" stroke="#ffffff" stroke-opacity="0.33" stroke-width="0.53"/><line x1="784.1" y1="448.4" x2="792.5" y2="441.8" stroke="#ffffff" stroke-opacity="0.26" stroke-width="0.63"/><line x1="740.3" y1="503.5" x2="744.1" y2="500.5" stroke="#5c6474" stroke-opacity="0.11" stroke-width="0.60"/><line x1="763.7" y1="401.7" x2="770.9" y2="396.1" stroke="#ffffff" stroke-opacity="0.27" stroke-width="0.52"/><line x1="842.0" y1="454.5" x2="845.3" y2="452.0" stroke="#ffffff" stroke-opacity="0.39" stroke-width="0.40"/><line x1="817.4" y1="522.3" x2="824.6" y2="516.7" stroke="#5c6474" stroke-opacity="0.10" stroke-width="0.55"/><line x1="820.0" y1="470.1" x2="826.6" y2="464.9" stroke="#ffffff" stroke-opacity="0.28" stroke-width="0.78"/><line x1="739.7" y1="400.3" x2="745.7" y2="395.7" stroke="#ffffff" stroke-opacity="0.35" stroke-width="0.61"/><line x1="856.6" y1="443.8" x2="862.9" y2="438.9" stroke="#5c6474" stroke-opacity="0.07" stroke-width="0.89"/><line x1="852.2" y1="433.5" x2="858.9" y2="428.3" stroke="#5c6474" stroke-opacity="0.14" stroke-width="0.72"/><line x1="741.4" y1="493.3" x2="745.1" y2="490.5" stroke="#5c6474" stroke-opacity="0.12" stroke-width="0.86"/><line x1="820.9" y1="393.4" x2="834.3" y2="382.9" stroke="#5c6474" stroke-opacity="0.12" stroke-width="0.40"/><line x1="836.5" y1="447.7" x2="847.2" y2="439.4" stroke="#5c6474" stroke-opacity="0.15" stroke-width="0.44"/><line x1="842.6" y1="451.1" x2="854.0" y2="442.2" stroke="#ffffff" stroke-opacity="0.26" stroke-width="0.62"/><line x1="746.5" y1="434.2" x2="757.7" y2="425.4" stroke="#ffffff" stroke-opacity="0.18" stroke-width="0.82"/><line x1="829.4" y1="463.5" x2="833.8" y2="460.0" stroke="#ffffff" stroke-opacity="0.23" stroke-width="0.88"/><line x1="813.5" y1="516.3" x2="819.0" y2="512.0" stroke="#ffffff" stroke-opacity="0.28" stroke-width="0.82"/><line x1="748.7" y1="510.6" x2="757.1" y2="504.1" stroke="#ffffff" stroke-opacity="0.26" stroke-width="0.59"/><line x1="828.5" y1="518.3" x2="837.1" y2="511.6" stroke="#5c6474" stroke-opacity="0.10" stroke-width="0.79"/><line x1="747.8" y1="490.9" x2="752.8" y2="487.0" stroke="#5c6474" stroke-opacity="0.08" stroke-width="0.57"/><line x1="753.9" y1="437.7" x2="763.6" y2="430.2" stroke="#5c6474" stroke-opacity="0.10" stroke-width="0.69"/><line x1="852.3" y1="438.9" x2="861.9" y2="431.4" stroke="#ffffff" stroke-opacity="0.40" stroke-width="0.56"/><line x1="833.1" y1="420.1" x2="839.1" y2="415.3" stroke="#5c6474" stroke-opacity="0.12" stroke-width="0.53"/><line x1="740.6" y1="503.3" x2="748.0" y2="497.6" stroke="#5c6474" stroke-opacity="0.10" stroke-width="0.71"/><line x1="809.5" y1="526.8" x2="822.7" y2="516.5" stroke="#ffffff" stroke-opacity="0.27" stroke-width="0.52"/><line x1="840.9" y1="401.9" x2="847.5" y2="396.8" stroke="#5c6474" stroke-opacity="0.06" stroke-width="0.75"/><line x1="814.0" y1="464.9" x2="820.8" y2="459.5" stroke="#ffffff" stroke-opacity="0.39" stroke-width="0.78"/><line x1="845.9" y1="403.3" x2="857.7" y2="394.1" stroke="#ffffff" stroke-opacity="0.20" stroke-width="0.67"/><line x1="817.6" y1="406.4" x2="829.2" y2="397.4" stroke="#5c6474" stroke-opacity="0.15" stroke-width="0.86"/><line x1="828.1" y1="441.3" x2="841.8" y2="430.6" stroke="#5c6474" stroke-opacity="0.09" stroke-width="0.83"/><line x1="837.4" y1="424.4" x2="843.3" y2="419.8" stroke="#ffffff" stroke-opacity="0.28" stroke-width="0.53"/><line x1="775.2" y1="422.2" x2="779.8" y2="418.6" stroke="#ffffff" stroke-opacity="0.22" stroke-width="0.54"/><line x1="768.9" y1="461.3" x2="781.6" y2="451.3" stroke="#ffffff" stroke-opacity="0.36" stroke-width="0.83"/><line x1="817.7" y1="465.5" x2="829.0" y2="456.7" stroke="#5c6474" stroke-opacity="0.13" stroke-width="0.86"/><line x1="845.5" y1="422.8" x2="849.3" y2="419.9" stroke="#5c6474" stroke-opacity="0.10" stroke-width="0.79"/><line x1="765.2" y1="451.2" x2="772.5" y2="445.6" stroke="#5c6474" stroke-opacity="0.15" stroke-width="0.65"/><line x1="814.2" y1="436.1" x2="819.9" y2="431.6" stroke="#5c6474" stroke-opacity="0.07" stroke-width="0.87"/><line x1="823.7" y1="400.2" x2="836.8" y2="389.9" stroke="#ffffff" stroke-opacity="0.29" stroke-width="0.46"/><line x1="872.0" y1="433.3" x2="884.8" y2="423.3" stroke="#ffffff" stroke-opacity="0.32" stroke-width="0.43"/><line x1="732.3" y1="470.4" x2="746.3" y2="459.5" stroke="#5c6474" stroke-opacity="0.15" stroke-width="0.79"/><line x1="806.1" y1="399.3" x2="815.1" y2="392.3" stroke="#ffffff" stroke-opacity="0.28" stroke-width="0.58"/><line x1="801.9" y1="416.9" x2="812.8" y2="408.4" stroke="#ffffff" stroke-opacity="0.27" stroke-width="0.44"/><line x1="798.7" y1="468.5" x2="812.5" y2="457.6" stroke="#5c6474" stroke-opacity="0.07" stroke-width="0.55"/><line x1="776.9" y1="488.6" x2="790.4" y2="478.0" stroke="#5c6474" stroke-opacity="0.15" stroke-width="0.86"/><line x1="857.8" y1="517.2" x2="861.2" y2="514.6" stroke="#ffffff" stroke-opacity="0.30" stroke-width="0.74"/><line x1="817.1" y1="476.1" x2="830.6" y2="465.6" stroke="#ffffff" stroke-opacity="0.28" stroke-width="0.88"/><line x1="733.2" y1="405.6" x2="746.0" y2="395.7" stroke="#5c6474" stroke-opacity="0.06" stroke-width="0.42"/><line x1="850.9" y1="484.9" x2="859.8" y2="477.9" stroke="#5c6474" stroke-opacity="0.14" stroke-width="0.80"/><line x1="729.1" y1="399.2" x2="741.1" y2="389.9" stroke="#5c6474" stroke-opacity="0.14" stroke-width="0.60"/><line x1="782.0" y1="434.8" x2="785.3" y2="432.2" stroke="#5c6474" stroke-opacity="0.09" stroke-width="0.69"/><line x1="806.0" y1="436.1" x2="816.6" y2="427.8" stroke="#ffffff" stroke-opacity="0.21" stroke-width="0.84"/><line x1="757.5" y1="408.3" x2="763.5" y2="403.7" stroke="#ffffff" stroke-opacity="0.35" stroke-width="0.57"/><line x1="766.5" y1="479.0" x2="772.6" y2="474.3" stroke="#5c6474" stroke-opacity="0.09" stroke-width="0.84"/><line x1="758.5" y1="420.0" x2="765.0" y2="415.0" stroke="#ffffff" stroke-opacity="0.33" stroke-width="0.74"/><line x1="847.6" y1="462.2" x2="851.6" y2="459.0" stroke="#5c6474" stroke-opacity="0.08" stroke-width="0.51"/><line x1="791.5" y1="526.4" x2="798.7" y2="520.7" stroke="#ffffff" stroke-opacity="0.38" stroke-width="0.90"/><line x1="785.2" y1="408.6" x2="797.1" y2="399.3" stroke="#5c6474" stroke-opacity="0.09" stroke-width="0.80"/><line x1="785.2" y1="429.0" x2="794.9" y2="421.4" stroke="#5c6474" stroke-opacity="0.11" stroke-width="0.81"/><line x1="733.3" y1="457.7" x2="740.7" y2="452.0" stroke="#ffffff" stroke-opacity="0.38" stroke-width="0.47"/><line x1="757.9" y1="513.3" x2="771.7" y2="502.6" stroke="#5c6474" stroke-opacity="0.09" stroke-width="0.87"/><line x1="748.8" y1="490.3" x2="762.3" y2="479.7" stroke="#ffffff" stroke-opacity="0.18" stroke-width="0.74"/><line x1="856.2" y1="492.0" x2="869.8" y2="481.4" stroke="#ffffff" stroke-opacity="0.24" stroke-width="0.46"/><line x1="772.6" y1="518.0" x2="776.6" y2="514.9" stroke="#ffffff" stroke-opacity="0.24" stroke-width="0.42"/><line x1="777.3" y1="412.4" x2="781.8" y2="408.8" stroke="#5c6474" stroke-opacity="0.11" stroke-width="0.68"/><line x1="838.7" y1="464.1" x2="852.3" y2="453.4" stroke="#ffffff" stroke-opacity="0.21" stroke-width="0.44"/></g>
</g>

<!-- weight icon -->
<rect x="892.8" y="432.9" width="41" height="13" rx="3" fill="#1d1d1b"/>
<path d="M901.7,452 Q901.7,449 904.7,449 L922.8,449 Q925.8,449 925.8,452 Q926,463 941,467 Q943.6,468 943.6,471 L943.6,513 Q943.6,517.7 939,517.7 L888,517.7 Q883.4,517.7 883.4,513 L883.4,471 Q883.4,468 886,467 Q901.5,463 901.7,452 Z" fill="#1d1d1b"/>
<text transform="translate(891,502) scale(0.85,1)" font-size="37" fill="#fff" stroke="#fff" stroke-width="0.6">K</text>
<text transform="translate(914.5,502.5) scale(1.05,1)" font-size="38" fill="#fff" stroke="#fff" stroke-width="0.5" style="font-family:'Liberation Serif',serif">g</text>
<text transform="translate(950,513) scale(0.94,1)" font-size="47" fill="#1d1d1b" stroke="#1d1d1b" stroke-width="1.4">25</text>

<!-- drop icon -->
<path d="M1057.5,446.8 C1062,460 1072,470 1078,477 C1083,483 1085,489 1085,496 C1085,509 1073,519 1057.8,519 C1042,519 1030.7,509 1030.7,496 C1030.7,489 1033,483 1038,477 C1044,470 1053,460 1057.5,446.8 Z" fill="#1d1d1b"/>
<text transform="translate(1047.5,507.5) scale(0.85,1)" font-size="44" fill="#fff" stroke="#fff" stroke-width="1.6">L</text>
<text transform="translate(1094.5,512.3) scale(0.93,1)" font-size="45" fill="#1d1d1b" stroke="#1d1d1b" stroke-width="1.5" letter-spacing="0.5">4,5</text>
</svg>
</body></html>
